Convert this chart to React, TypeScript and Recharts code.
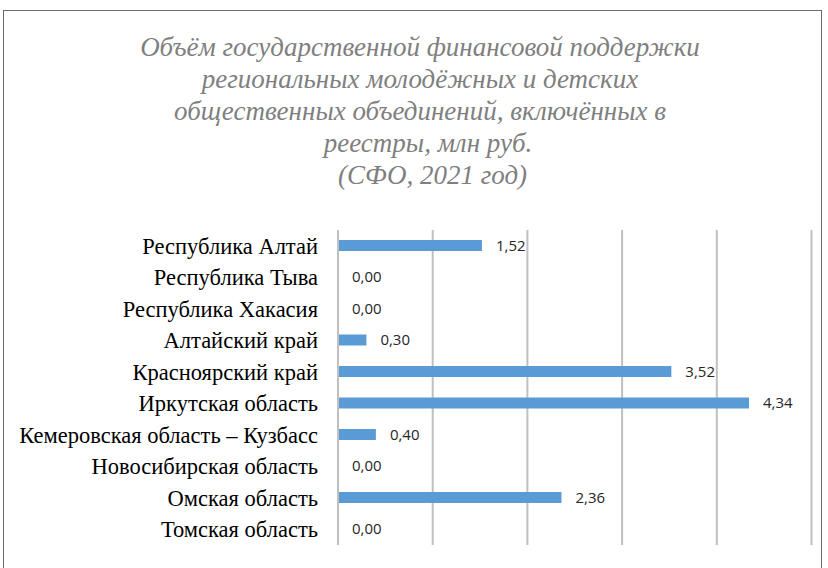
import { BarChart, Bar, XAxis, YAxis, CartesianGrid, LabelList } from 'recharts'

const regions = [
  'Республика Алтай',
  'Республика Тыва',
  'Республика Хакасия',
  'Алтайский край',
  'Красноярский край',
  'Иркутская область',
  'Кемеровская область – Кузбасс',
  'Новосибирская область',
  'Омская область',
  'Томская область',
]

const amounts = [1.52, 0, 0, 0.3, 3.52, 4.34, 0.4, 0, 2.36, 0]

const xTicks = [0, 1, 2, 3, 4, 5]

const titleLines = [
  'Объём государственной финансовой поддержки',
  'региональных молодёжных и детских',
  'общественных объединений, включённых в',
  'реестры, млн руб.',
  '(СФО, 2021 год)',
]
// small shifts of the last two title lines (trailing spaces in the original)
const titleShift = [0, 0, 0, 16, 25]

const data = regions.map((name, i) => ({ name, value: amounts[i] }))

const fmt = (v: any) => Number(v).toFixed(2).replace('.', ',')

const serif = '"Liberation Serif", "Times New Roman", serif'

export default function App() {
  return (
    <div style={{ position: 'absolute', left: 0, top: 0, width: 828, height: 568, background: '#fff', overflow: 'hidden', fontFamily: serif }}>
      <div
        style={{
          position: 'absolute',
          left: 3,
          top: 10,
          width: 819,
          height: 600,
          border: '1px solid #6b6b6b',
          boxSizing: 'border-box',
        }}
      />
      <div
        style={{
          position: 'absolute',
          left: 70,
          top: 31,
          width: 700,
          textAlign: 'center',
          fontFamily: serif,
          fontStyle: 'italic',
          fontSize: 27,
          lineHeight: '32px',
          color: '#7f7f7f',
        }}
      >
        {titleLines.map((t, i) => (
          <div key={t} style={{ paddingLeft: titleShift[i] }}>{t}</div>
        ))}
      </div>
      <div style={{ position: 'absolute', left: 0, top: 0 }}>
        <BarChart
          width={828}
          height={568}
          data={data}
          layout="vertical"
          margin={{ top: 230, right: 16.5, bottom: 23, left: 0 }}
          style={{ fontFamily: serif }}
        >
          <CartesianGrid horizontal={false} stroke="#c0c0c0" strokeWidth={2} />
          <XAxis type="number" domain={[0, 5]} ticks={xTicks} hide />
          <YAxis
            type="category"
            dataKey="name"
            width={338}
            tickLine={false}
            tickSize={0}
            tickMargin={20}
            axisLine={{ stroke: '#c0c0c0', strokeWidth: 2 }}
            tick={{ fill: '#000', fontSize: 22.5, style: { fontFamily: serif } }}
            interval={0}
          />
          <Bar dataKey="value" fill="#5b9bd5" barSize={11} minPointSize={0.01} isAnimationActive={false}>
            <LabelList
              dataKey="value"
              position="right"
              offset={14}
              formatter={fmt}
              style={{ fill: '#262626', fontSize: 15, fontFamily: '"Open Sans", sans-serif' }}
            />
          </Bar>
        </BarChart>
      </div>
    </div>
  )
}
